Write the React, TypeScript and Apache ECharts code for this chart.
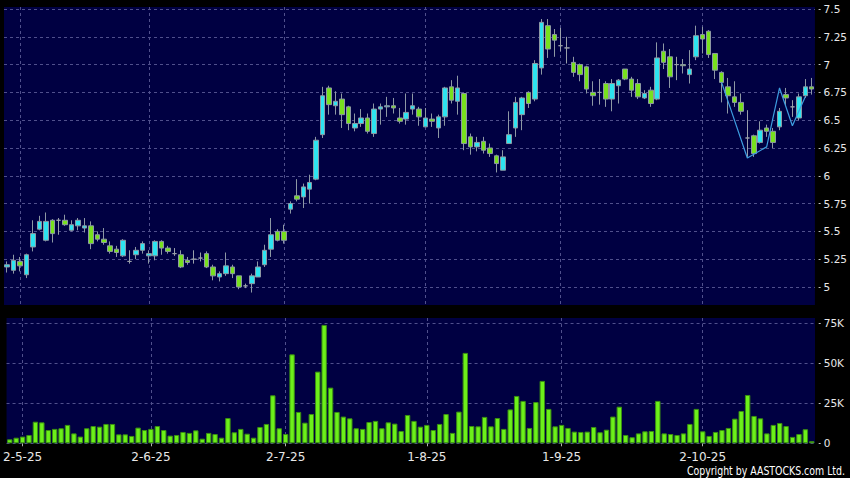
import React, { useEffect, useRef } from 'react';
import * as echarts from 'echarts';

const categories = [
  '29-4-25', '30-4-25',
  '2-5-25', '6-5-25', '7-5-25', '8-5-25', '9-5-25', '12-5-25', '13-5-25', '14-5-25', '15-5-25', '16-5-25',
  '19-5-25', '20-5-25', '21-5-25', '22-5-25', '23-5-25', '26-5-25', '27-5-25', '28-5-25', '29-5-25', '30-5-25',
  '2-6-25', '3-6-25', '4-6-25', '5-6-25', '6-6-25', '9-6-25', '10-6-25', '11-6-25', '12-6-25', '13-6-25',
  '16-6-25', '17-6-25', '18-6-25', '19-6-25', '20-6-25', '23-6-25', '24-6-25', '25-6-25', '26-6-25', '27-6-25', '30-6-25',
  '2-7-25', '3-7-25', '4-7-25', '7-7-25', '8-7-25', '9-7-25', '10-7-25', '11-7-25', '14-7-25', '15-7-25', '16-7-25',
  '17-7-25', '18-7-25', '21-7-25', '22-7-25', '23-7-25', '24-7-25', '25-7-25', '28-7-25', '29-7-25', '30-7-25', '31-7-25',
  '1-8-25', '4-8-25', '5-8-25', '6-8-25', '7-8-25', '8-8-25', '11-8-25', '12-8-25', '13-8-25', '14-8-25', '15-8-25',
  '18-8-25', '19-8-25', '20-8-25', '21-8-25', '22-8-25', '25-8-25', '26-8-25', '27-8-25', '28-8-25', '29-8-25',
  '1-9-25', '2-9-25', '3-9-25', '4-9-25', '5-9-25', '8-9-25', '9-9-25', '10-9-25', '11-9-25', '12-9-25',
  '15-9-25', '16-9-25', '17-9-25', '18-9-25', '19-9-25', '22-9-25', '23-9-25', '24-9-25', '25-9-25', '26-9-25', '29-9-25', '30-9-25',
  '2-10-25', '3-10-25', '6-10-25', '8-10-25', '9-10-25', '10-10-25', '13-10-25', '14-10-25', '15-10-25', '16-10-25', '17-10-25',
  '20-10-25', '21-10-25', '22-10-25', '23-10-25', '24-10-25', '27-10-25', '28-10-25',
];

const tickDates = ['2-5-25', '2-6-25', '2-7-25', '1-8-25', '1-9-25', '2-10-25'];

const opens = [
  5.18, 5.15, 5.23, 5.11, 5.36, 5.52, 5.42, 5.60, 5.60, 5.60,
  5.51, 5.55, 5.53, 5.55, 5.47, 5.43, 5.37, 5.34, 5.28, 5.23,
  5.29, 5.33, 5.28, 5.28, 5.41, 5.35, 5.30, 5.29, 5.24, 5.25,
  5.26, 5.30, 5.18, 5.09, 5.12, 5.18, 5.10, 5.01, 5.03, 5.09,
  5.20, 5.34, 5.50, 5.50, 5.70, 5.82, 5.81, 5.88, 5.97, 6.37,
  6.79, 6.63, 6.69, 6.62, 6.43, 6.47, 6.52, 6.38, 6.60, 6.62,
  6.63, 6.52, 6.51, 6.60, 6.60, 6.44, 6.51, 6.43, 6.53, 6.80,
  6.67, 6.74, 6.35, 6.26, 6.31, 6.25, 6.18, 6.05, 6.29, 6.43,
  6.55, 6.75, 6.69, 6.97, 7.35, 7.27, 7.17, 7.15, 7.02, 7.00,
  6.98, 6.75, 6.75, 6.83, 6.69, 6.81, 6.96, 6.87, 6.83, 6.70,
  6.77, 6.69, 7.12, 7.07, 7.00, 7.00, 6.91, 7.07, 7.27, 7.30,
  7.10, 6.93, 6.80, 6.71, 6.66, 6.34, 6.36, 6.30, 6.43, 6.40,
  6.44, 6.73, 6.62, 6.52, 6.72, 6.80,
];

const closes = [
  5.20, 5.24, 5.19, 5.29, 5.48, 5.59, 5.59, 5.48, 5.60, 5.56,
  5.56, 5.60, 5.55, 5.39, 5.43, 5.40, 5.32, 5.31, 5.42, 5.23,
  5.33, 5.39, 5.30, 5.41, 5.35, 5.32, 5.30, 5.18, 5.22, 5.25,
  5.26, 5.18, 5.10, 5.12, 5.19, 5.12, 5.00, 5.01, 5.10, 5.18,
  5.33, 5.47, 5.42, 5.42, 5.75, 5.79, 5.90, 5.94, 6.32, 6.72,
  6.64, 6.67, 6.55, 6.47, 6.47, 6.52, 6.40, 6.60, 6.62, 6.63,
  6.61, 6.49, 6.57, 6.63, 6.53, 6.52, 6.49, 6.53, 6.79, 6.68,
  6.79, 6.29, 6.26, 6.30, 6.23, 6.20, 6.11, 6.17, 6.37, 6.66,
  6.70, 6.65, 7.01, 7.38, 7.14, 7.22, 7.17, 7.15, 6.93, 6.91,
  6.78, 6.72, 6.75, 6.69, 6.83, 6.86, 6.87, 6.77, 6.71, 6.74,
  6.65, 7.06, 7.02, 6.89, 7.00, 6.99, 6.96, 7.26, 7.23, 7.09,
  6.95, 6.84, 6.72, 6.66, 6.58, 6.34, 6.20, 6.41, 6.40, 6.30,
  6.58, 6.70, 6.62, 6.71, 6.80, 6.78,
];

const lows = [
  5.13, 5.12, 5.14, 5.08, 5.32, 5.51, 5.41, 5.40, 5.47, 5.55,
  5.50, 5.51, 5.49, 5.34, 5.41, 5.38, 5.30, 5.27, 5.27, 5.21,
  5.25, 5.30, 5.21, 5.24, 5.29, 5.30, 5.28, 5.17, 5.20, 5.21,
  5.23, 5.17, 5.06, 5.05, 5.10, 5.08, 4.98, 4.99, 4.95, 5.09,
  5.18, 5.27, 5.41, 5.39, 5.66, 5.77, 5.71, 5.75, 5.96, 6.34,
  6.55, 6.55, 6.43, 6.41, 6.40, 6.44, 6.38, 6.35, 6.46, 6.53,
  6.56, 6.47, 6.46, 6.55, 6.45, 6.44, 6.44, 6.34, 6.45, 6.65,
  6.55, 6.23, 6.19, 6.22, 6.20, 6.17, 6.03, 6.05, 6.29, 6.35,
  6.41, 6.61, 6.67, 6.91, 7.06, 7.07, 7.12, 7.01, 6.89, 6.85,
  6.74, 6.63, 6.64, 6.62, 6.58, 6.65, 6.86, 6.71, 6.69, 6.69,
  6.62, 6.68, 6.96, 6.79, 6.86, 6.92, 6.83, 7.04, 7.10, 7.06,
  6.87, 6.66, 6.56, 6.62, 6.55, 6.17, 6.17, 6.29, 6.35, 6.25,
  6.41, 6.63, 6.53, 6.50, 6.70, 6.73,
];

const highs = [
  5.23, 5.29, 5.27, 5.30, 5.60, 5.64, 5.67, 5.61, 5.62, 5.65,
  5.60, 5.62, 5.62, 5.59, 5.50, 5.53, 5.41, 5.37, 5.43, 5.33,
  5.36, 5.41, 5.33, 5.42, 5.42, 5.37, 5.35, 5.33, 5.27, 5.33,
  5.31, 5.32, 5.20, 5.14, 5.31, 5.20, 5.10, 5.03, 5.12, 5.23,
  5.38, 5.62, 5.52, 5.56, 5.77, 5.97, 5.93, 6.01, 6.35, 6.80,
  6.81, 6.76, 6.74, 6.63, 6.56, 6.60, 6.56, 6.65, 6.65, 6.71,
  6.70, 6.61, 6.74, 6.74, 6.62, 6.61, 6.56, 6.55, 6.80, 6.86,
  6.90, 6.75, 6.38, 6.35, 6.35, 6.29, 6.19, 6.23, 6.58, 6.71,
  6.71, 6.76, 7.04, 7.41, 7.41, 7.32, 7.33, 7.25, 7.07, 7.01,
  6.99, 6.85, 6.87, 6.85, 6.87, 6.87, 6.96, 6.89, 6.87, 6.77,
  6.80, 7.20, 7.19, 7.14, 7.07, 7.05, 7.13, 7.35, 7.34, 7.31,
  7.10, 6.94, 6.88, 6.85, 6.74, 6.59, 6.37, 6.49, 6.46, 6.43,
  6.61, 6.79, 6.68, 6.74, 6.87, 6.88,
];

const volumes = [
  2500, 3500, 4200, 5200, 13500, 13100, 8300, 9000, 9400, 11500,
  6200, 4200, 9400, 10800, 10400, 12100, 12100, 5600, 5600, 4600,
  9800, 8300, 9000, 10800, 8300, 4800, 5200, 7100, 6500, 8100,
  2900, 6500, 5800, 3500, 15800, 6900, 9000, 6000, 3500, 10200,
  12100, 30000, 9400, 5800, 55600, 19600, 12900, 18300, 44800, 74000,
  34800, 19600, 16700, 15600, 9400, 9000, 13300, 14000, 9400, 13100,
  12300, 7700, 17700, 14000, 10400, 11500, 8300, 12100, 18300, 6500,
  19800, 56500, 10800, 10600, 16500, 10600, 15800, 9000, 21200, 29600,
  26500, 9600, 25800, 39000, 21500, 10600, 11500, 9600, 7300, 7100,
  7300, 10200, 6900, 8500, 16700, 22900, 5200, 3800, 6200, 7500,
  7700, 26500, 6200, 5800, 5200, 6200, 12100, 21500, 7500, 4600,
  7100, 8300, 9600, 15400, 20200, 30200, 17100, 15600, 6200, 11500,
  12700, 10800, 4000, 5800, 8800, 1300,
];

const lineIdx = [111, 115, 118, 120, 122, 124];
const lineVals = [6.84, 6.16, 6.26, 6.79, 6.45, 6.71];

const priceTicks = [5, 5.25, 5.5, 5.75, 6, 6.25, 6.5, 6.75, 7, 7.25, 7.5];
const volumeTicks = [0, 25000, 50000, 75000];

const FONT = "'DejaVu Sans', sans-serif";

export default function App() {
  const ref = useRef<HTMLDivElement>(null);

  useEffect(() => {
    if (!ref.current) return;
    const chart = echarts.init(ref.current, undefined, { renderer: 'svg' });
    const isTick = (i: number) => tickDates.includes(categories[i]);
    const gridLine = {
      show: true,
      lineStyle: { color: '#50508c', type: [3, 3] as any, width: 1 },
    };

    const option: any = {
      animation: false,
      backgroundColor: '#000000',
      grid: [
        { left: 4, right: 35, top: 7, height: 298, show: true, backgroundColor: '#000042', borderWidth: 0 },
        { left: 4, right: 35, top: 318, height: 125.3, show: true, backgroundColor: '#000042', borderWidth: 0 },
      ],
      xAxis: [
        {
          type: 'category',
          gridIndex: 0,
          data: categories,
          boundaryGap: true,
          axisLine: { show: false },
          axisTick: { show: false },
          axisLabel: { show: false },
          splitLine: { ...gridLine, interval: (i: number) => isTick(i), alignWithLabel: true },
        },
        {
          type: 'category',
          gridIndex: 1,
          data: categories,
          boundaryGap: true,
          offset: 3,
          axisLine: { show: false },
          axisTick: {
            show: true,
            interval: (i: number) => isTick(i),
            alignWithLabel: true,
            length: 3,
            lineStyle: { color: '#b0b0b0' },
          },
          axisLabel: {
            interval: (i: number) => isTick(i),
            color: '#e8e8e8',
            fontSize: 12,
            fontFamily: FONT,
            margin: 5,
          },
          splitLine: { ...gridLine, interval: (i: number) => isTick(i), alignWithLabel: true },
        },
      ],
      yAxis: [
        {
          type: 'value',
          gridIndex: 0,
          position: 'right',
          min: 4.838,
          max: 7.518,
          offset: 3.7,
          axisLine: { show: false },
          axisTick: { show: true, length: 2, customValues: priceTicks, lineStyle: { color: '#c0c0c0' } },
          axisLabel: {
            customValues: priceTicks,
            color: '#e8e8e8',
            fontSize: 10.5,
            fontFamily: FONT,
            margin: 5,
            formatter: (v: number) => String(v),
          },
          splitLine: gridLine,
        },
        {
          type: 'value',
          gridIndex: 1,
          position: 'right',
          min: 0,
          max: 78312,
          offset: 3.7,
          axisLine: { show: false },
          axisTick: { show: true, length: 2, customValues: volumeTicks, lineStyle: { color: '#c0c0c0' } },
          axisLabel: {
            customValues: volumeTicks,
            color: '#e8e8e8',
            fontSize: 10.5,
            fontFamily: FONT,
            margin: 5,
            formatter: (v: number) => (v === 0 ? '0' : v / 1000 + 'K'),
          },
          splitLine: gridLine,
        },
      ],
      series: [
        {
          type: 'candlestick',
          xAxisIndex: 0,
          yAxisIndex: 0,
          barWidth: 5,
          data: categories.map((_, i) => [opens[i], closes[i], lows[i], highs[i]]),
          itemStyle: {
            color: '#2de3f0',
            color0: '#78e01e',
            borderColor: '#8d98a4',
            borderColor0: '#8d98a4',
            borderColorDoji: '#9aa0aa',
            borderWidth: 1,
          },
        },
        {
          type: 'line',
          xAxisIndex: 0,
          yAxisIndex: 0,
          data: lineIdx.map((x, k) => [x, lineVals[k]]),
          symbol: 'none',
          showSymbol: false,
          z: 5,
          lineStyle: { color: '#3d9de0', width: 1.2 },
        },
        {
          type: 'bar',
          xAxisIndex: 1,
          yAxisIndex: 1,
          barWidth: 5.4,
          data: volumes,
          itemStyle: { color: '#6cf01a', borderColor: '#3b8f12', borderWidth: 1 },
        },
      ],
      graphic: [
        {
          type: 'text',
          x: 845,
          y: 471,
          scaleX: 0.783,
          style: {
            text: 'Copyright by AASTOCKS.com Ltd.',
            x: 0,
            y: 0,
            align: 'right',
            verticalAlign: 'middle',
            fill: '#ffffff',
            font: "12px 'DejaVu Sans', sans-serif",
          },
        },
      ],
    };

    chart.setOption(option);
    return () => chart.dispose();
  }, []);

  return (
    <div
      ref={ref}
      style={{ position: 'fixed', left: 0, top: 0, width: 850, height: 478, background: '#000' }}
    />
  );
}
